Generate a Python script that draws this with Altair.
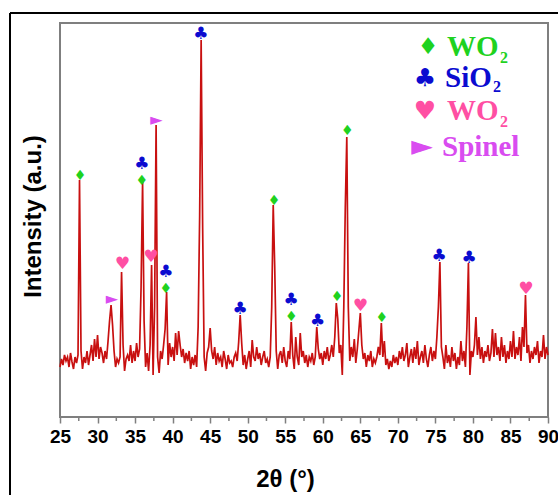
import altair as alt
import pandas as pd

# XRD pattern: intensity read every 0.2 degrees from 25 to 90 (2-theta)
intensity = [
    50, 58, 52, 62, 56,    # 25
    60, 50, 64, 55, 48,    # 26
    60, 54, 62, 237, 66,   # 27
    48, 60, 54, 66, 52,    # 28
    62, 72, 56, 78, 60,    # 29
    82, 58, 70, 64, 54,    # 30
    66, 58, 76, 96, 112,   # 31
    92, 66, 50, 58, 54,    # 32
    60, 145, 72, 46, 58,   # 33
    62, 56, 72, 54, 66,    # 34
    56, 74, 60, 68, 130,   # 35
    235, 96, 50, 64, 46,   # 36
    72, 152, 42, 110, 292, # 37
    60, 44, 66, 58, 72,    # 38
    88, 125, 52, 74, 60,   # 39
    70, 56, 84, 62, 86,    # 40
    72, 60, 68, 54, 64,    # 41
    56, 66, 48, 60, 52,    # 42
    62, 50, 90, 200, 377,  # 43
    190, 60, 46, 64, 70,   # 44
    89, 66, 58, 70, 52,    # 45
    64, 56, 60, 50, 66,    # 46
    58, 48, 62, 54, 56,    # 47
    50, 60, 64, 56, 75,    # 48
    102, 74, 52, 62, 48,   # 49
    58, 66, 50, 77, 60,    # 50
    56, 70, 58, 64, 52,    # 51
    60, 66, 54, 58, 50,    # 52
    60, 110, 212, 150, 66, # 53
    48, 62, 66, 54, 70,    # 54
    56, 50, 66, 58, 95,    # 55
    62, 48, 80, 60, 52,    # 56
    84, 60, 66, 54, 62,    # 57
    50, 60, 56, 64, 52,    # 58
    60, 90, 68, 58, 64,    # 59
    52, 66, 58, 70, 56,    # 60
    62, 72, 60, 80, 114,   # 61
    98, 64, 72, 42, 110,   # 62
    210, 280, 110, 56, 70, # 63
    60, 78, 54, 68, 86,    # 64
    104, 72, 58, 64, 50,   # 65
    62, 56, 66, 50, 58,    # 66
    54, 60, 70, 62, 94,    # 67
    60, 76, 52, 58, 48,    # 68
    56, 50, 62, 54, 60,    # 69
    52, 66, 58, 70, 56,    # 70
    62, 74, 50, 60, 68,    # 71
    54, 70, 58, 76, 52,    # 72
    60, 66, 54, 72, 58,    # 73
    50, 62, 70, 56, 66,    # 74
    58, 80, 110, 155, 70,  # 75
    60, 48, 72, 54, 62,    # 76
    50, 70, 56, 64, 48,    # 77
    60, 52, 76, 56, 66,    # 78
    50, 90, 154, 42, 66,   # 79
    60, 72, 100, 62, 80,   # 80
    58, 70, 54, 66, 60,    # 81
    72, 56, 64, 88, 60,    # 82
    84, 62, 70, 56, 80,    # 83
    60, 72, 54, 66, 58,    # 84
    76, 60, 86, 58, 70,    # 85
    62, 80, 56, 90, 70,    # 86
    122, 64, 72, 54, 66,   # 87
    58, 70, 62, 76, 54,    # 88
    66, 60, 82, 58, 70,    # 89
    62,                    # 90
]
two_theta = [round(25 + 0.2 * i, 1) for i in range(len(intensity))]

# Phase markers placed above the identified reflections
marker_theta = [27.66, 31.9, 33.3, 35.9, 35.9, 37.1, 37.85, 39.1, 39.1, 43.75, 49.0,
                53.5, 55.8, 55.8, 59.3, 61.9, 63.25, 65.0, 67.85, 75.5, 79.5, 87.05]
marker_level = [241, 118, 153, 236, 253, 160, 297, 128, 145, 383, 108,
                216, 100, 117, 96, 120, 286, 111, 99, 161, 159, 128]
marker_phase = ["WO2a", "Spinel", "WO2b", "WO2a", "SiO2", "WO2b", "Spinel", "WO2a", "SiO2", "SiO2", "SiO2",
                "WO2a", "WO2a", "SiO2", "SiO2", "WO2a", "WO2a", "WO2b", "WO2a", "SiO2", "SiO2", "WO2b"]

phases = ["WO2a", "SiO2", "WO2b", "Spinel"]
phase_glyph = ["\u2666", "\u2663", "\u2665", "\u25BA"]
phase_color = ["#1FD21F", "#0B0BD0", "#FF4FA3", "#D94CF0"]
phase_marker_size = [14, 17, 17, 16]
legend_name = ["WO", "SiO", "WO", "Spinel"]
legend_sub = ["2", "2", "2", ""]

major_ticks = [25, 30, 35, 40, 45, 50, 55, 60, 65, 70, 75, 80, 85, 90]
minor_ticks = [27.5, 32.5, 37.5, 42.5, 47.5, 52.5, 57.5, 62.5, 67.5, 72.5, 77.5, 82.5, 87.5]

df = pd.DataFrame({"two_theta": two_theta, "intensity": intensity})

style = {p: (g, c, s) for p, g, c, s in zip(phases, phase_glyph, phase_color, phase_marker_size)}
mk = pd.DataFrame({
    "two_theta": marker_theta,
    "intensity": marker_level,
    "glyph": [style[p][0] for p in marker_phase],
    "color": [style[p][1] for p in marker_phase],
    "fs": [style[p][2] for p in marker_phase],
})

# legend layout (pixels relative to plot area)
leg = pd.DataFrame({
    "glyph": phase_glyph,
    "color": phase_color,
    "name": legend_name,
    "sub": legend_sub,
    "sx": [368, 365, 365, 362],
    "sy": [24, 55, 88, 124],
    "gs": [23, 25, 25, 28],
    "tx": [387, 385, 387, 382],
    "ux": [440, 433, 440, 0],
    "uy": [35, 64, 99, 0],
})

xscale = alt.Scale(domain=[25, 90], nice=False, zero=False)
yscale = alt.Scale(domain=[0, 394], nice=False, zero=False)

x_axis = alt.Axis(
    values=major_ticks,
    format="d",
    labelOverlap=False,
    labelFlush=False,
    labelFont="Liberation Sans",
    labelFontSize=19,
    labelFontWeight="bold",
    labelColor="black",
    labelPadding=4,
    tickSize=6,
    tickColor="#7f7f7f",
    tickWidth=1.5,
    domain=False,
    grid=False,
    title="2\u03b8 (\u00b0)",
    titleFont="Liberation Sans",
    titleFontSize=24,
    titleFontWeight="bold",
    titleColor="black",
    titleX=225,
    titleY=50,
    titleAlign="center",
    titleBaseline="top",
)
y_axis = alt.Axis(
    labels=False,
    ticks=False,
    domain=False,
    grid=False,
    title="Intensity (a.u.)",
    titleFont="Liberation Sans",
    titleFontSize=24,
    titleFontWeight="bold",
    titleColor="black",
    titleAngle=270,
    titleX=-27,
    titleY=193,
    titleAlign="center",
    titleBaseline="middle",
)

x_enc = alt.X("two_theta:Q", scale=xscale, axis=x_axis)
y_enc = alt.Y("intensity:Q", scale=yscale, axis=y_axis)

one = pd.DataFrame({"k": [0]})
frame_top = alt.Chart(one).mark_rule(color="black", strokeWidth=2).encode(
    x=alt.value(-50), x2=alt.value(700), y=alt.value(-10))
frame_left = alt.Chart(one).mark_rule(color="black", strokeWidth=2).encode(
    x=alt.value(-50), y=alt.value(-10), y2=alt.value(700))

line = alt.Chart(df).mark_line(color="#C81010", strokeWidth=1.7).encode(x=x_enc, y=y_enc)

# minor ticks drawn as short rules under the x axis
minor_df = pd.DataFrame({"two_theta": minor_ticks})
minor = alt.Chart(minor_df).mark_rule(color="#7f7f7f", strokeWidth=1.5).encode(
    x=x_enc,
    y=alt.value(395),
    y2=alt.value(398),
)

markers = alt.Chart(mk).mark_text(font="DejaVu Sans", align="center", baseline="middle").encode(
    x=x_enc,
    y=y_enc,
    text="glyph:N",
    color=alt.Color("color:N", scale=None),
    size=alt.Size("fs:Q", scale=None),
)

leg_sym = alt.Chart(leg).mark_text(font="DejaVu Sans", align="center", baseline="middle").encode(
    x=alt.X("sx:Q", scale=None),
    y=alt.Y("sy:Q", scale=None),
    text="glyph:N",
    color=alt.Color("color:N", scale=None),
    size=alt.Size("gs:Q", scale=None),
)
leg_txt = alt.Chart(leg).mark_text(font="Liberation Serif", fontWeight="bold", fontSize=29,
                                    align="left", baseline="middle").encode(
    x=alt.X("tx:Q", scale=None),
    y=alt.Y("sy:Q", scale=None),
    text="name:N",
    color=alt.Color("color:N", scale=None),
)
leg_sub = alt.Chart(leg).transform_filter("datum.sub != ''").mark_text(
    font="Liberation Serif", fontWeight="bold", fontSize=16, align="left", baseline="middle").encode(
    x=alt.X("ux:Q", scale=None),
    y=alt.Y("uy:Q", scale=None),
    text="sub:N",
    color=alt.Color("color:N", scale=None),
)

chart = alt.layer(line, minor, markers, leg_sym, leg_txt, leg_sub, frame_top, frame_left).properties(
    width=488,
    height=394,
    padding={"left": 60, "top": 23, "right": 10, "bottom": 78},
    autosize="none",
    background="white",
).configure_view(stroke="#7f7f7f", strokeWidth=2)

chart.save("out.html", embed_options={"renderer": "svg", "actions": False})
